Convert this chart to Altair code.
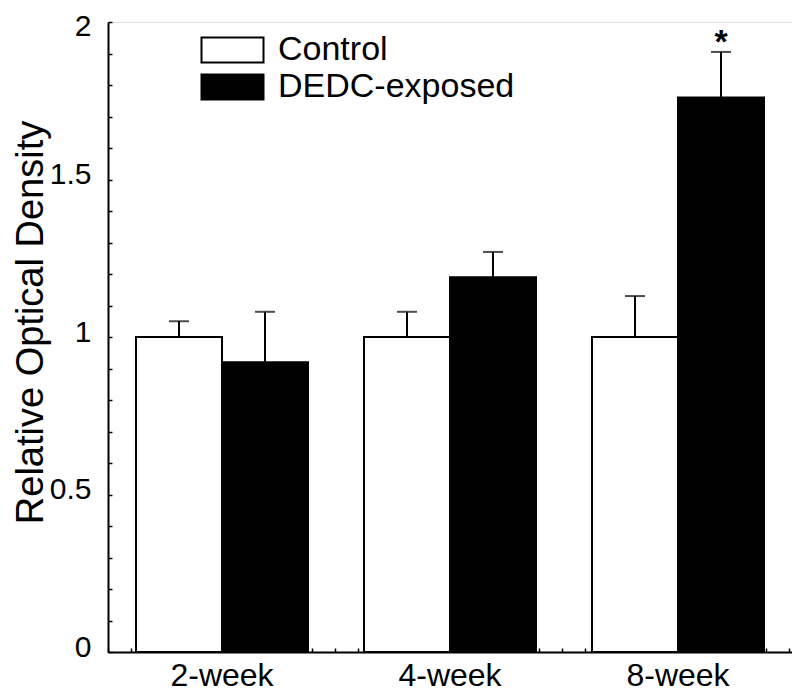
import altair as alt
import pandas as pd

weeks = ["2-week", "4-week", "8-week"]
groups = ["Control", "DEDC-exposed"]
control_mean = [1.00, 1.00, 1.00]
control_sem = [0.05, 0.08, 0.13]
dedc_mean = [0.92, 1.19, 1.76]
dedc_sem = [0.16, 0.08, 0.145]
dedc_mark = ["", "", "*"]
y_labels = [0, 0.5, 1, 1.5, 2]
y_minor = [round(i * 0.1, 1) for i in range(21)]
x_minor = list(range(31))

rows = []
for i, w in enumerate(weeks):
    rows.append(dict(week=w, group=groups[0], value=control_mean[i],
                     upper=control_mean[i] + control_sem[i], sig=""))
    rows.append(dict(week=w, group=groups[1], value=dedc_mean[i],
                     upper=dedc_mean[i] + dedc_sem[i], sig=dedc_mark[i]))
df = pd.DataFrame(rows)

FONT = "Liberation Sans"
W, H = 684, 630

xscale = alt.Scale(domain=weeks, paddingInner=0.2456, paddingOuter=0.1228)
yscale = alt.Scale(domain=[0, 2], nice=False, zero=True)
offscale = alt.Scale(domain=groups)

x_main = alt.X("week:N", scale=xscale, sort=weeks,
               axis=alt.Axis(orient="bottom", title=None, labelAngle=0, ticks=False,
                             domainColor="black", domainWidth=2, labelFont=FONT,
                             labelFontSize=32, labelColor="black", labelPadding=8,
                             labelBaseline="top", zindex=0))
xoff = alt.XOffset("group:N", scale=offscale, sort=groups)

base = alt.Chart(df)

bars = base.mark_bar(stroke="black", strokeWidth=2).encode(
    x=x_main,
    xOffset=xoff,
    y=alt.Y("value:Q", scale=yscale,
            axis=alt.Axis(orient="left", values=y_labels, format="~g", ticks=False,
                          grid=False, domainColor="black", domainWidth=2,
                          labelFont=FONT, labelFontSize=30, labelColor="black",
                          labelPadding=17,
                          labelOffset={"condition": {"test": "datum.value == 2", "value": 4},
                                       "value": -5},
                          title="Relative Optical Density", titleFont=FONT,
                          titleFontSize=38, titleFontWeight="normal",
                          titleColor="black", titleX=-58, titleY=300, zindex=0)),
    color=alt.Color("group:N", scale=alt.Scale(domain=groups, range=["white", "black"]),
                    legend=alt.Legend(title=None, orient="none", legendX=92, legendY=11,
                                      symbolType="M-1,-0.8H3V0.8H-1Z",
                                      symbolSize=961, symbolStrokeColor="black",
                                      symbolStrokeWidth=2, labelFont=FONT,
                                      labelFontSize=34, labelColor="black",
                                      labelOffset=44, rowPadding=3, padding=0,
                                      labelLimit=400)),
)

rules = base.mark_rule(color="black", strokeWidth=2).encode(
    x=x_main,
    xOffset=xoff,
    y=alt.Y("value:Q", scale=yscale,
            axis=alt.Axis(orient="left", offset=-4, values=y_minor, domain=False,
                          labels=False, ticks=True, tickSize=4, tickWidth=1.5,
                          tickColor="black", title=None, grid=False, zindex=0)),
    y2="upper:Q",
)

caps = base.mark_tick(color="black", thickness=2, size=20).encode(
    x=x_main,
    xOffset=xoff,
    y=alt.Y("upper:Q", scale=yscale, axis=None),
)

stars = base.mark_text(font=FONT, fontSize=34, fontWeight="bold", baseline="alphabetic",
                       dy=1, color="black").encode(
    x=x_main,
    xOffset=xoff,
    y=alt.Y("upper:Q", scale=yscale, axis=None),
    text="sig:N",
)

inner = alt.layer(bars, rules, caps, stars).resolve_axis(y="independent")

xticks = alt.Chart(df).transform_calculate(tk="0").mark_point(opacity=0).encode(
    x=alt.X("tk:Q", scale=alt.Scale(domain=[0, W / 22.7], nice=False, zero=False),
            axis=alt.Axis(orient="bottom", offset=-4, values=x_minor, domain=False,
                          labels=False, tickSize=4, tickWidth=1.5, tickColor="black",
                          title=None, grid=False, zindex=0)),
)

chart = alt.layer(inner, xticks).resolve_scale(x="independent").properties(
    width=W, height=H,
    padding={"left": 100, "top": 14, "right": 0, "bottom": 40},
    autosize=alt.AutoSizeParams(type="none"),
).configure_view(stroke=None).configure(background="white")

chart.save("out.html", embed_options={"renderer": "svg", "actions": False})
